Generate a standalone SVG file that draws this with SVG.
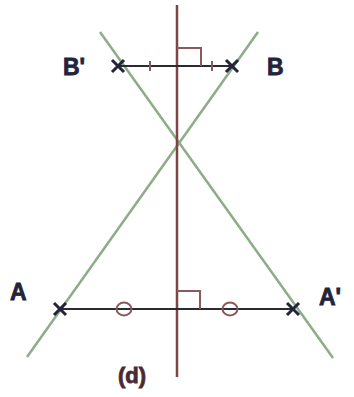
<svg xmlns="http://www.w3.org/2000/svg" width="354" height="397" viewBox="0 0 354 397">
<style>
.green{stroke:#8cad86;stroke-width:2.5;fill:none}
.axis{stroke:#7a4646;stroke-width:2.5;fill:none}
.seg{stroke:#2a2a35;stroke-width:2;fill:none}
.cross{stroke:#23233a;stroke-width:3;fill:none}
.mark{stroke:#8a5a5a;stroke-width:2;fill:none}
.lbl{font-family:"Liberation Sans",Arial,sans-serif;font-weight:bold;font-size:23px;fill:#23233a;stroke:#23233a;stroke-width:0.8}
</style>
<rect width="354" height="397" fill="#ffffff"/>
<g id="connectors">
<line class="green" x1="258" y1="32" x2="27" y2="357"/>
<line class="green" x1="100" y1="32" x2="333" y2="358"/>
<line class="axis" x1="177" y1="5" x2="177" y2="377"/>
<line class="seg" x1="118" y1="66" x2="232" y2="66"/>
<line class="seg" x1="60" y1="309" x2="293" y2="309"/>
<path class="mark" d="M177 48 H201 V66"/>
<path class="mark" d="M177 291 H200 V309"/>
<line class="mark" x1="150" y1="61" x2="150" y2="71"/>
<line class="mark" x1="212" y1="61" x2="212" y2="71"/>
<ellipse class="mark" cx="124" cy="309" rx="7.5" ry="6.5"/>
<ellipse class="mark" cx="230" cy="309" rx="7.5" ry="6.5"/>
</g>
<g id="Bp"><path class="cross" d="M112 60 L124 72 M124 60 L112 72"/><text class="lbl" x="63" y="75">B'</text></g>
<g id="B"><path class="cross" d="M226 60 L238 72 M238 60 L226 72"/><text class="lbl" x="267" y="75">B</text></g>
<g id="A"><path class="cross" d="M54 303 L66 315 M66 303 L54 315"/><text class="lbl" x="10" y="300">A</text></g>
<g id="Ap"><path class="cross" d="M287 303 L299 315 M299 303 L287 315"/><text class="lbl" x="319" y="305">A'</text></g>
<g id="d"><text class="lbl" x="118" y="383" style="font-size:22px;fill:#4a2a35;stroke:#4a2a35">(d)</text></g>
</svg>
